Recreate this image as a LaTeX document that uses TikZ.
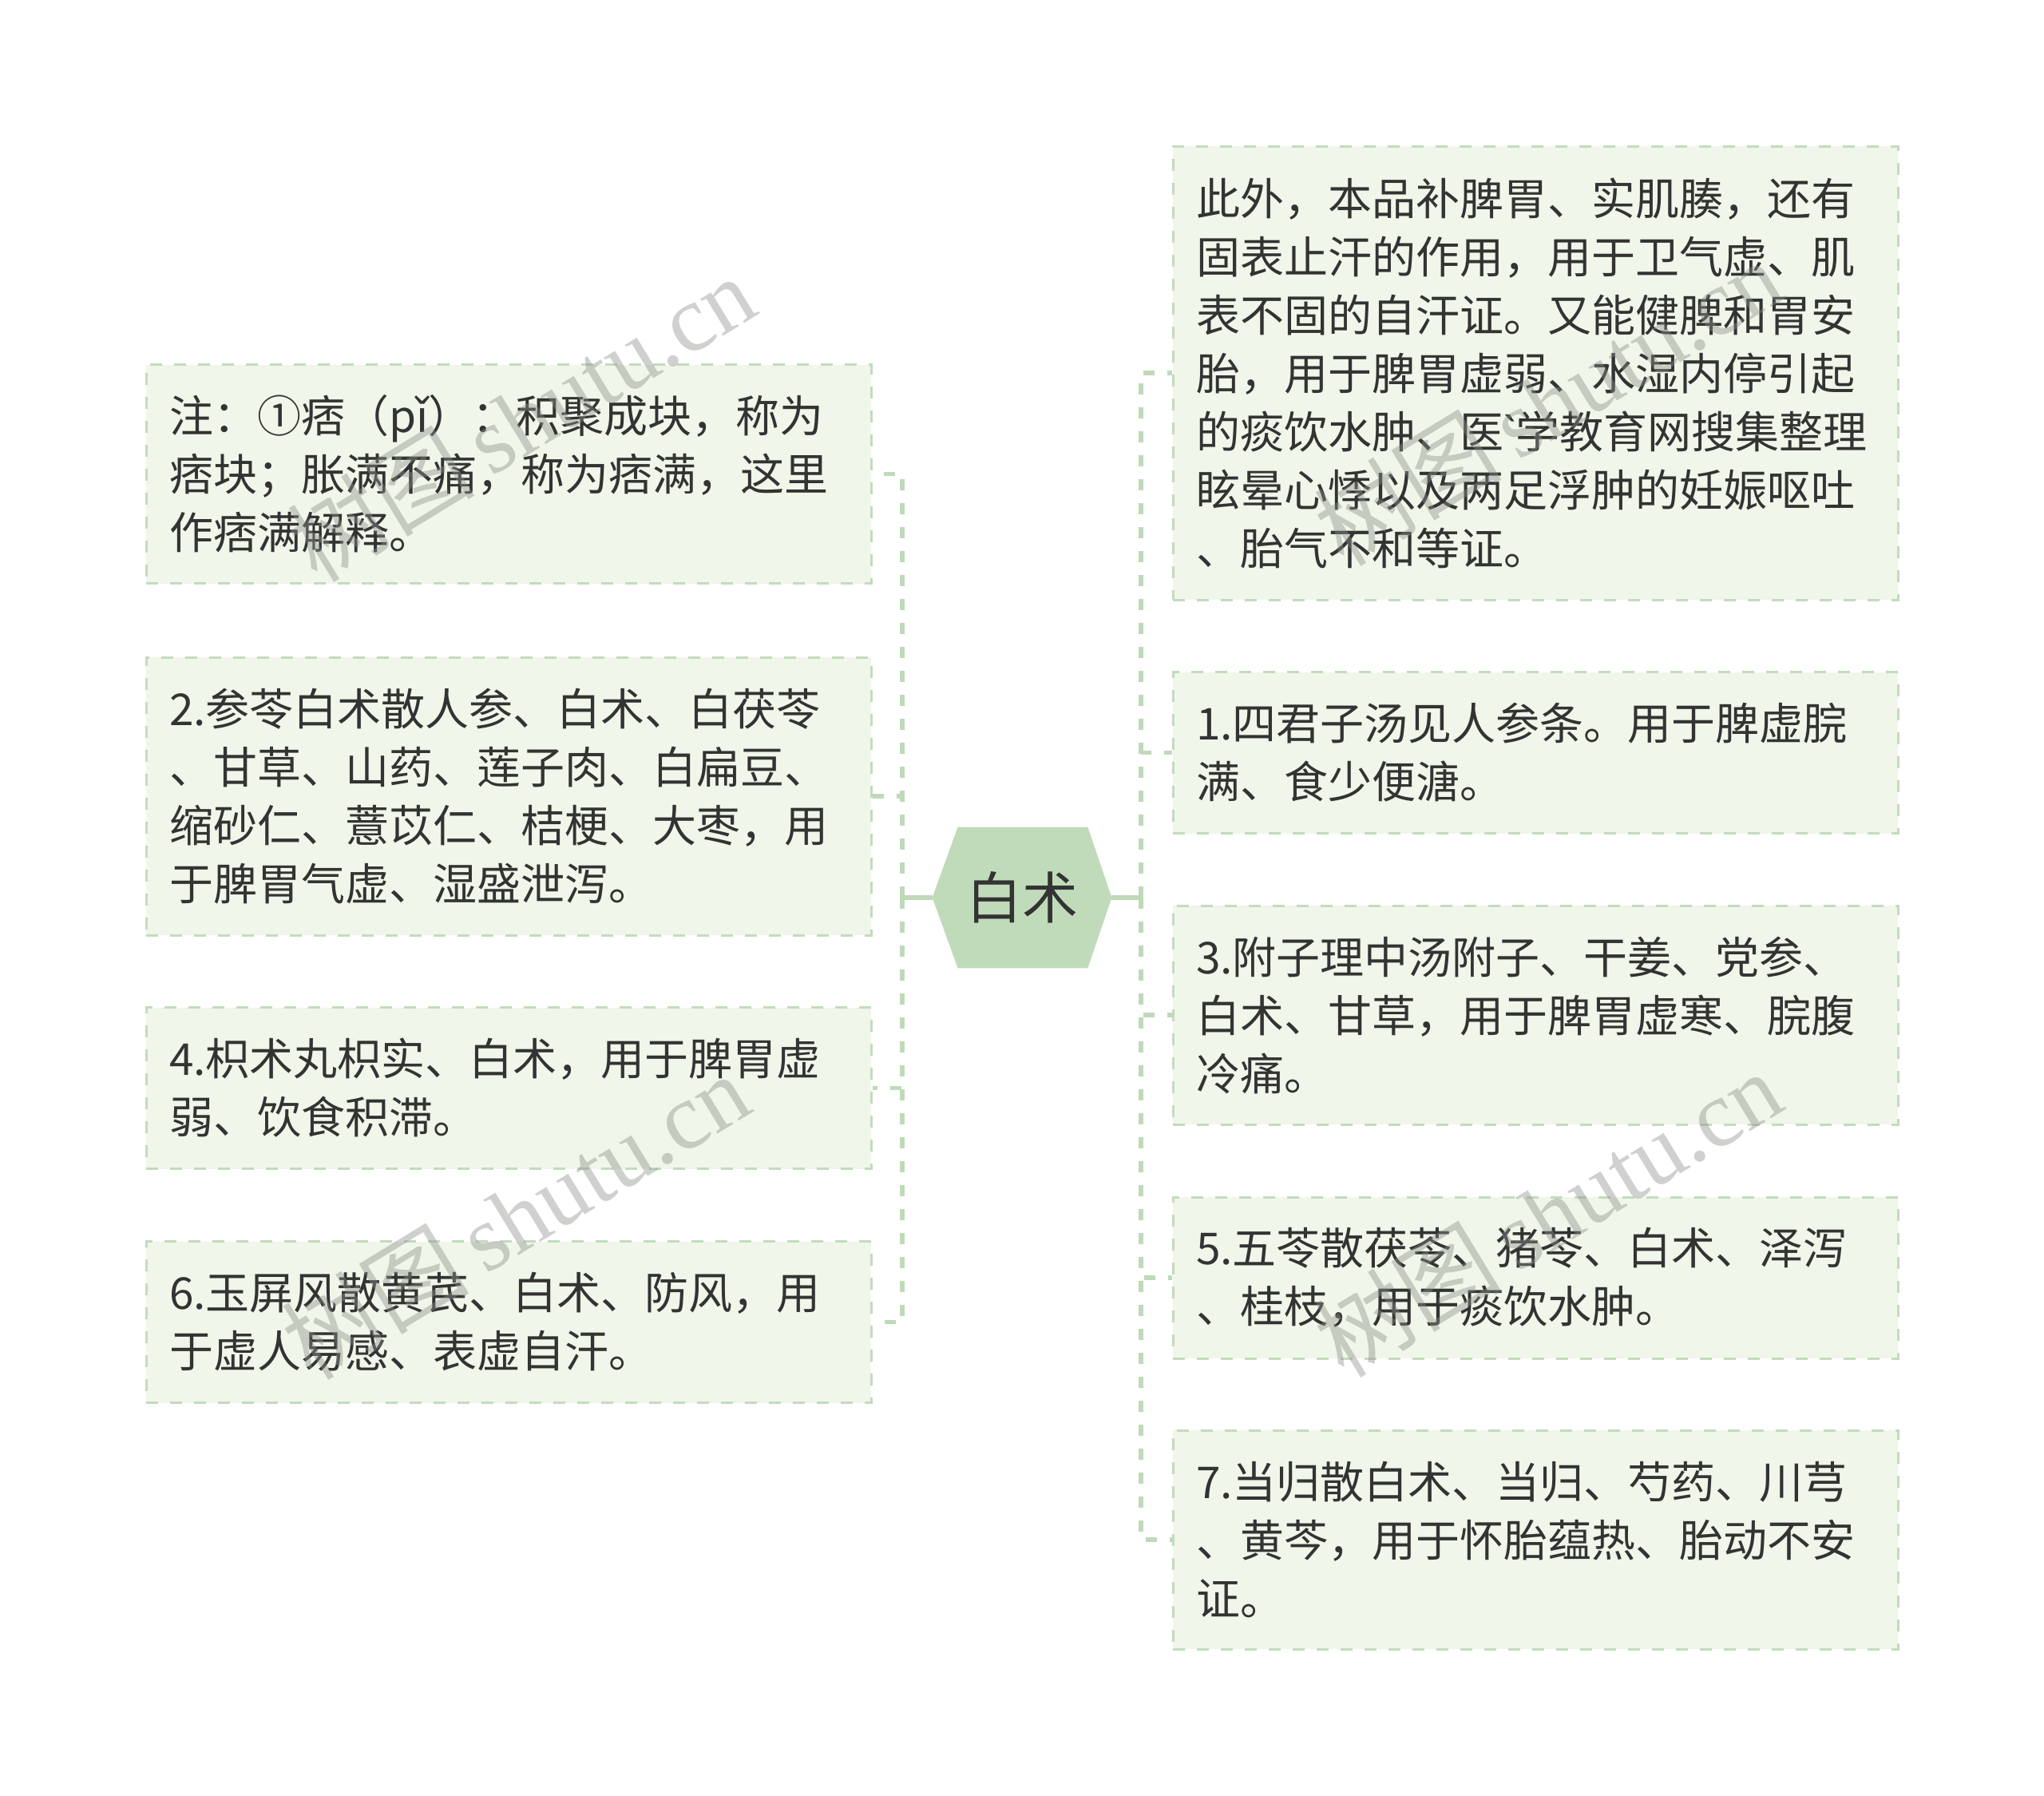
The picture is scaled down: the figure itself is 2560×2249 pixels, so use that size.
\documentclass[tikz,border=0pt]{standalone}
\usepackage{fontspec}
\setmainfont{Noto Sans CJK SC}
\newfontfamily\wmfont{Liberation Serif}
\newfontfamily\latinfont{Noto Sans}
\usetikzlibrary{calc}
\definecolor{txt}{HTML}{333333}
\definecolor{boxfill}{HTML}{F0F6E9}
\definecolor{boxline}{HTML}{C3DBBE}
\definecolor{linkc}{HTML}{C0D9BA}
\definecolor{hexfill}{HTML}{C0DBBA}
\definecolor{wmc}{RGB}{140,145,140}
\pgfdeclarelayer{background}
\pgfsetlayers{background,main}
\tikzset{
  leaf/.style={draw=boxline, fill=boxfill, dash pattern=on 7.5pt off 7.5pt,
    line width=1.5pt, minimum width=454pt, text width=425pt, inner xsep=14.5pt,
    inner ysep=0pt, align=left, text=txt,
    font=\fontsize{27.5pt}{36.5pt}\selectfont},
  two/.style={leaf, minimum height=101pt},
  three/.style={leaf, minimum height=137pt},
  four/.style={leaf, minimum height=174pt},
  seven/.style={leaf, minimum height=284pt},
  hexn/.style={minimum width=112pt, minimum height=88pt, inner sep=0pt,
    text=txt, font=\fontsize{35pt}{42pt}\selectfont},
  trunk/.style={draw=linkc, line width=2.8pt},
  spine/.style={draw=linkc, line width=2.8pt, dash pattern=on 7pt off 8pt},
  wm/.style={text=wmc, text opacity=0.42, rotate=31.4, inner sep=0pt,
    font=\fontsize{59pt}{59pt}\selectfont}
}
\begin{document}
\begin{tikzpicture}[x=0.5pt,y=-0.5pt]
\useasboundingbox (0,0) rectangle (2560,2249);

% centre
\node[hexn] (c) at (1280,1124) {白术};
\begin{pgfonlayer}{background}
\fill[hexfill] (c.west) -- ($(c.north west)+(32,0)$) -- ($(c.north east)+(-30,0)$)
  -- (c.east) -- ($(c.south east)+(-30,0)$) -- ($(c.south west)+(32,0)$) -- cycle;
\end{pgfonlayer}

% left leaves
\node[three] (L1) at (637,593.5) {注：①痞（pǐ）：积聚成块，称为\\痞块；胀满不痛，称为痞满，这里\\作痞满解释。};
\node[four] (L2) at (637,997) {2.参苓白术散人参、白术、白茯苓\\、甘草、山药、莲子肉、白扁豆、\\缩砂仁、薏苡仁、桔梗、大枣，用\\于脾胃气虚、湿盛泄泻。};
\node[two] (L3) at (637,1362.5) {4.枳术丸枳实、白术，用于脾胃虚\\弱、饮食积滞。};
\node[two] (L4) at (637,1655.5) {6.玉屏风散黄芪、白术、防风，用\\于虚人易感、表虚自汗。};

% right leaves
\node[seven] (R1) at (1923,467) {此外，本品补脾胃、实肌腠，还有\\固表止汗的作用，用于卫气虚、肌\\表不固的自汗证。又能健脾和胃安\\胎，用于脾胃虚弱、水湿内停引起\\的痰饮水肿、医{\latinfont\symbol{96}}学教育网搜集整理\\眩晕心悸以及两足浮肿的妊娠呕吐\\、胎气不和等证。};
\node[two] (R2) at (1923,942.5) {1.四君子汤见人参条。用于脾虚脘\\满、食少便溏。};
\node[three] (R3) at (1923,1271) {3.附子理中汤附子、干姜、党参、\\白术、甘草，用于脾胃虚寒、脘腹\\冷痛。};
\node[two] (R4) at (1923,1600) {5.五苓散茯苓、猪苓、白术、泽泻\\、桂枝，用于痰饮水肿。};
\node[three] (R5) at (1923,1928) {7.当归散白术、当归、芍药、川芎\\、黄芩，用于怀胎蕴热、胎动不安\\证。};

% connectors
\coordinate (lj) at (1130,1124);
\coordinate (rj) at (1429,1124);
\draw[trunk] (c.west) -- (lj);
\draw[trunk] (c.east) -- (rj);
\foreach \n in {L1,L2,L3,L4} {\draw[spine] (lj) |- (\n.east);}
\foreach \n in {R1,R2,R3,R4,R5} {\draw[spine] (rj) |- (\n.west);}

% watermarks
\node[wm] (w1) at (652,523) {树图\,{\wmfont shutu.cn}};
\node[wm] (w2) at (645,1522) {树图\,{\wmfont shutu.cn}};
\node[wm] (w3) at (1938,1519) {树图\,{\wmfont shutu.cn}};
\node[wm] (w4) at (1938,503) {树图\,{\wmfont shutu.cn}};
\end{tikzpicture}
\end{document}
